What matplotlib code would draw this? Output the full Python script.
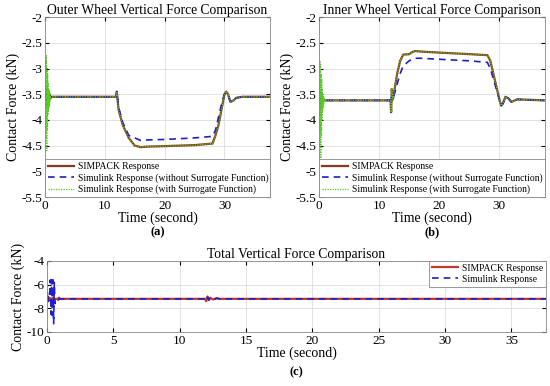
import matplotlib
matplotlib.use("Agg")
import matplotlib.pyplot as plt
import numpy as np

plt.rcParams['font.family'] = ['Liberation Serif', 'DejaVu Serif']
plt.rcParams['axes.unicode_minus'] = False

# ---------------- data ----------------
# Outer wheel (a)
osc_t = [0.0, 0.05, 0.1, 0.15, 0.2, 0.25, 0.3, 0.35, 0.4, 0.45, 0.5, 0.55, 0.6, 0.65, 0.7, 0.75, 0.8, 0.85, 0.9, 0.95, 1.0]
tail_t_a = [1.5, 11.9, 12.0, 12.3, 13.0, 14.0, 15.0, 16.0, 17.0, 20.0, 25.0, 28.0, 28.5, 29.0, 29.5, 30.0, 30.3, 30.6, 31.0, 31.5, 32.0, 33.0, 37.6]
simpack_a_osc = [-3.55, -3.45, -3.7, -3.4, -3.75, -3.4, -3.7, -3.45, -3.65, -3.5, -3.6, -3.5, -3.7, -3.45, -3.6, -3.55, -3.5, -3.6, -3.55, -3.56, -3.55]
simpack_a_tail = [-3.55, -3.55, -3.45, -3.8, -4.1, -4.35, -4.5, -4.53, -4.52, -4.51, -4.49, -4.46, -4.3, -4.1, -3.8, -3.5, -3.45, -3.5, -3.65, -3.62, -3.57, -3.55, -3.55]
surr_a_osc = [-3.55, -3.2, -4.1, -2.8, -4.4, -2.75, -4.6, -3.0, -4.2, -3.1, -3.9, -3.3, -3.8, -3.4, -3.75, -3.45, -3.65, -3.5, -3.6, -3.55, -3.55]
nosurr_a_osc = [-3.55, -3.5, -3.6, -3.45, -3.65, -3.5, -3.6, -3.5, -3.62, -3.52, -3.58, -3.54, -3.56, -3.55, -3.55, -3.55, -3.55, -3.55, -3.55, -3.55, -3.55]
nosurr_a_tail = [-3.55, -3.55, -3.45, -3.75, -4.05, -4.3, -4.35, -4.4, -4.39, -4.38, -4.35, -4.32, -4.2, -3.95, -3.7, -3.5, -3.48, -3.52, -3.65, -3.6, -3.57, -3.55, -3.55]

# Inner wheel (b)
tail_t_b = [1.5, 11.9, 12.0, 12.1, 12.3, 13.0, 13.5, 14.0, 15.0, 15.5, 16.0, 17.0, 20.0, 25.0, 28.0, 28.5, 29.0, 29.5, 30.0, 30.3, 30.6, 31.0, 31.5, 32.0, 33.0, 37.6]
simpack_b_osc = [-3.62, -3.5, -3.75, -3.45, -3.8, -3.5, -3.75, -3.55, -3.7, -3.58, -3.66, -3.6, -3.64, -3.61, -3.63, -3.62, -3.62, -3.62, -3.62, -3.62, -3.62]
simpack_b_tail = [-3.62, -3.62, -3.85, -3.4, -3.6, -3.1, -2.85, -2.73, -2.72, -2.68, -2.66, -2.67, -2.69, -2.72, -2.74, -2.85, -3.1, -3.35, -3.6, -3.72, -3.68, -3.55, -3.58, -3.65, -3.6, -3.62]
surr_b_osc = [-3.62, -3.3, -4.2, -2.85, -4.5, -2.9, -4.75, -3.1, -4.3, -3.2, -4.0, -3.4, -3.85, -3.5, -3.75, -3.55, -3.68, -3.58, -3.64, -3.62, -3.62]
nosurr_b_osc = [-3.62, -3.55, -3.7, -3.5, -3.72, -3.55, -3.68, -3.58, -3.66, -3.6, -3.64, -3.61, -3.63, -3.62, -3.62, -3.62, -3.62, -3.62, -3.62, -3.62, -3.62]
nosurr_b_tail = [-3.62, -3.62, -3.7, -3.55, -3.6, -3.3, -3.1, -2.95, -2.85, -2.82, -2.8, -2.8, -2.82, -2.85, -2.88, -3.0, -3.2, -3.4, -3.6, -3.72, -3.68, -3.55, -3.58, -3.65, -3.6, -3.62]

# Total (c)
tail_t_c = [1.5, 11.9, 12.0, 12.1, 12.2, 12.3, 12.5, 12.8, 13.0, 37.6]
simpack_c_osc = [-7.2, -7.0, -7.4, -7.1, -7.3, -7.15, -7.25, -7.2, -7.3, -7.1, -7.25, -7.2, -7.2, -7.2, -7.2, -7.2, -7.2, -7.3, -7.1, -7.2, -7.2]
simpack_c_tail = [-7.2, -7.2, -7.4, -7.0, -7.3, -7.1, -7.25, -7.15, -7.2, -7.2]
sim_c_osc = [-7.2, -6.6, -7.4, -7.3, -7.1, -5.6, -8.5, -5.6, -8.6, -5.6, -9.3, -5.8, -7.6, -7.2, -7.2, -7.2, -7.2, -7.2, -7.2, -7.2, -7.2]
sim_c_tail = [-7.2, -7.2, -7.35, -7.05, -7.3, -7.1, -7.25, -7.15, -7.2, -7.2]

xticks_ab = [0, 10, 20, 30]
yticks_ab = [-5.5, -5, -4.5, -4, -3.5, -3, -2.5, -2]
xticks_c = [0, 5, 10, 15, 20, 25, 30, 35]
yticks_c = [-10, -8, -6, -4]

# ---------------- styles ----------------
C_SIM = '#8B3A1A'
C_RED = '#C0392B'
C_BLUE = '#1F1FCC'
C_GREEN = '#55CC22'
XMAX = 37.6
FS_TICK = 9.5
FS_LAB = 10
FS_TITLE = 9.8
FS_LEG = 6.9

fig = plt.figure(figsize=(5.5, 3.86), dpi=100)

def style(ax):
    ax.grid(True, color='#DDDDDD', linewidth=0.6)
    ax.tick_params(direction='in', labelsize=FS_TICK, length=3, pad=2, top=True, right=True,
                   labeltop=False, labelright=False)
    for s in ax.spines.values():
        s.set_color('#888888')
        s.set_linewidth(0.6)
    ax.set_axisbelow(True)

def ab_panel(rect, title, sp_osc, sp_tail, ns_osc, ns_tail, su_osc, tail_t, letter):
    ax = fig.add_axes(rect)
    t = osc_t + tail_t
    ax.plot(t, sp_osc + sp_tail, color=C_SIM, lw=1.6, label='SIMPACK Response')
    ax.plot(t, ns_osc + ns_tail, color=C_BLUE, lw=1.2, ls=(0, (4, 3)), label='Simulink Response (without Surrogate Function)')
    ax.plot(t, su_osc + sp_tail, color=C_GREEN, lw=0.9, ls=(0, (1, 1)), label='Simulink Response (with Surrogate Function)')
    ax.set_xlim(0, XMAX)
    ax.set_ylim(-5.5, -2)
    ax.set_xticks(xticks_ab)
    ax.set_yticks(yticks_ab)
    ax.set_yticklabels([f'{v:g}' for v in yticks_ab])
    ax.set_title(title, fontsize=FS_TITLE, pad=2)
    ax.set_ylabel('Contact Force (kN)', fontsize=FS_LAB, labelpad=1)
    ax.set_xlabel('Time (second)', fontsize=FS_LAB, labelpad=0)
    style(ax)
    leg = ax.legend(loc='lower left', bbox_to_anchor=(0, 0, 1, 0), mode='expand', fontsize=FS_LEG,
                    borderaxespad=0, handlelength=2.7, handletextpad=0.4, labelspacing=0.2,
                    borderpad=0.3, fancybox=False, framealpha=1, edgecolor='#888888')
    leg.get_frame().set_linewidth(0.6)
    ax.text(0.5, -0.195, letter, transform=ax.transAxes, ha='center', va='center', fontsize=9, fontweight='bold')
    return ax

ab_panel([0.0818, 0.4896, 0.409, 0.466], 'Outer Wheel Vertical Force Comparison',
         simpack_a_osc, simpack_a_tail, nosurr_a_osc, nosurr_a_tail, surr_a_osc, tail_t_a, '(a)')
ab_panel([0.58, 0.4896, 0.411, 0.466], 'Inner Wheel Vertical Force Comparison',
         simpack_b_osc, simpack_b_tail, nosurr_b_osc, nosurr_b_tail, surr_b_osc, tail_t_b, '(b)')

axc = fig.add_axes([0.0855, 0.1399, 0.907, 0.184])
tc = osc_t + tail_t_c
axc.plot(tc, simpack_c_osc + simpack_c_tail, color=C_RED, lw=1.6, label='SIMPACK Response')
axc.plot(tc, sim_c_osc + sim_c_tail, color=C_BLUE, lw=1.2, ls=(0, (4, 3)), label='Simulink Response')
axc.set_xlim(0, XMAX)
axc.set_ylim(-10, -4)
axc.set_xticks(xticks_c)
axc.set_yticks(yticks_c)
axc.set_title('Total Vertical Force Comparison', fontsize=FS_TITLE, pad=2)
axc.set_ylabel('Contact Force (kN)', fontsize=FS_LAB, labelpad=1)
axc.set_xlabel('Time (second)', fontsize=FS_LAB, labelpad=0)
style(axc)
leg = axc.legend(loc='upper right', fontsize=FS_LEG, borderaxespad=0, handlelength=2.7, handletextpad=0.4,
                 labelspacing=0.2, borderpad=0.3, fancybox=False, framealpha=1, edgecolor='#888888')
leg.get_frame().set_linewidth(0.6)
axc.text(0.5, -0.57, '(c)', transform=axc.transAxes, ha='center', va='center', fontsize=9, fontweight='bold')

fig.savefig('out.png', dpi=100)
